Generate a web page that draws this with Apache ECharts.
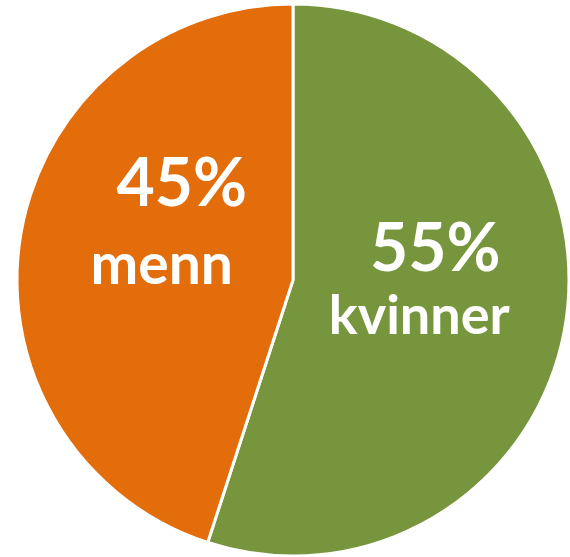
<!DOCTYPE html>
<html>
<head>
	<meta charset="UTF-8">
	<title>kvinner / menn</title>
	<script src="https://cdn.jsdelivr.net/npm/echarts@6/dist/echarts.min.js"></script>
	<style>
		html, body { margin:0; padding:0; background:#ffffff; }
		#chart { width:570px; height:557px; }
	</style>
</head>
<body>
<div id="chart"></div>

<script type="text/javascript">
	// data
	var names = ['kvinner', 'menn'];
	var values = [55, 45];

	var colors = ['#77953D', '#E36C0B'];
	// per-slice label tweaks (offset, shift of the % line, line gap, name size)
	var labelOffsets = [[-13, -19], [8, -33]];
	var pctShift = [32, 40];
	var lineGaps = [67, 81];
	var nameSizes = [54, 57];

	var chart = echarts.init(document.getElementById('chart'));

	var data = [];
	for (var i = 0; i < names.length; i++)
	{
		data.push({
			name: names[i],
			value: values[i],
			itemStyle: { color: colors[i] },
			label: {
				offset: labelOffsets[i],
				rich: {
					p: { fontSize:66, fontWeight:'bold', color:'#fff', fontFamily:'Lato', lineHeight:lineGaps[i], padding:[0,0,0,pctShift[i]] },
					n: { fontSize:nameSizes[i], fontWeight:'bold', color:'#fff', fontFamily:'Lato', lineHeight:lineGaps[i] }
				}
			}
		});
	}

	var option =
	{
		animation: false,
		series:
		[{
			type: 'pie',
			center: [293, 280],
			radius: [0, 276],
			startAngle: 90,
			clockwise: true,
			itemStyle: { borderColor:'#ffffff', borderWidth:3 },
			label: {
				show: true,
				position: 'inside',
				formatter: function(p) { return '{p|' + p.value + '%}\n{n|' + p.name + '}'; }
			},
			labelLine: { show:false },
			emphasis: { disabled:true },
			data: data
		}]
	};
	chart.setOption(option);
</script>
</body>
</html>
